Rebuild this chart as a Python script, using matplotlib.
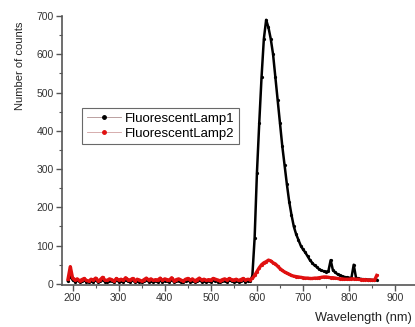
import matplotlib
matplotlib.use("Agg")
import matplotlib.pyplot as plt
from matplotlib.ticker import MultipleLocator

plt.rcParams['font.family'] = ['Liberation Sans', 'DejaVu Sans']

wavelength = list(range(190, 865, 5))

lamp1 = [
    8, 20, 10, 6, 9, 5, 7, 10, 6, 4, 8, 6, 9, 5, 7, 11, 6, 5, 8, 7,
    4, 9, 6, 8, 5, 10, 7, 6, 9, 5, 8, 6, 4, 7, 9, 6, 8, 5, 7, 6,
    9, 5, 8, 7, 6, 10, 5, 7, 8, 6, 4, 7, 9, 6, 8, 5, 7, 9, 6, 8,
    5, 7, 6, 9, 8, 6, 5, 7, 8, 6, 9, 7, 6, 8, 5, 7, 9, 6, 8, 7,
    20, 120, 290, 420, 540, 640, 690, 670, 640, 600, 540, 480, 420, 360, 310, 260,
    215, 180, 150, 130, 115, 100, 90, 82, 72, 62, 55, 48, 44, 38, 35, 33,
    32, 33, 62, 35, 30, 25, 22, 20, 18, 17, 16, 15, 50, 16, 14, 13,
    12, 12, 11, 11, 10, 10, 10,
]

lamp2 = [
    12, 45, 15, 10, 13, 8, 11, 14, 9, 7, 12, 10, 15, 8, 11, 17, 10, 9, 13, 11,
    7, 14, 10, 12, 9, 16, 11, 10, 14, 8, 12, 10, 7, 11, 15, 10, 13, 9, 11, 10,
    15, 9, 13, 11, 10, 16, 8, 11, 13, 10, 7, 12, 14, 10, 13, 8, 11, 15, 10, 12,
    9, 11, 10, 14, 12, 10, 8, 11, 13, 10, 14, 11, 10, 12, 9, 11, 14, 10, 12, 11,
    14, 22, 32, 42, 50, 55, 58, 62, 60, 55, 52, 46, 40, 35, 31, 28,
    25, 22, 20, 19, 18, 17, 16, 15, 15, 14, 14, 15, 15, 16, 17, 18,
    18, 17, 16, 16, 15, 14, 13, 13, 12, 12, 12, 13, 13, 12, 12, 11,
    11, 11, 10, 10, 10, 9, 22,
]

W, H = 415, 327
fig = plt.figure(figsize=(W / 100, H / 100), dpi=100)
ax = fig.add_axes([62 / W, 1 - 285 / H, 1 - 62 / W, (285 - 16) / H])

ax.plot(wavelength, lamp1, color='black', lw=1.8, marker='o', ms=1.3,
        label='FluorescentLamp1')
ax.plot(wavelength, lamp2, color='#e01010', lw=2.4, marker='o', ms=1.3,
        label='FluorescentLamp2')

ax.set_xlim(177, 943)
ax.set_ylim(-3, 700)
ax.xaxis.set_major_locator(MultipleLocator(100))
ax.xaxis.set_minor_locator(MultipleLocator(50))
ax.yaxis.set_major_locator(MultipleLocator(100))
ax.yaxis.set_minor_locator(MultipleLocator(50))
for s in ['top', 'right']:
    ax.spines[s].set_visible(False)
for s in ['left', 'bottom']:
    ax.spines[s].set_color('#555555')
    ax.spines[s].set_linewidth(1.2)
ax.tick_params(which='major', direction='out', length=4, width=1, color='#555555',
               labelsize=7.5, labelcolor='#333333', pad=2)
ax.tick_params(which='minor', direction='out', length=2.5, width=0.8, color='#555555')

fig.text(412 / W, 1 - 318 / H, 'Wavelength (nm)', fontsize=9.2, color='#222222',
         ha='right', va='center')
fig.text(20 / W, 1 - 66 / H, 'Number of counts', fontsize=8, color='#222222',
         rotation=90, ha='center', va='center')

leg = ax.legend(loc='upper left', bbox_to_anchor=((82 - 62) / (W - 62), 1 - (108 - 16) / (285 - 16)),
                fontsize=9.5, frameon=True, fancybox=False, borderpad=0.35,
                handlelength=2.6, handletextpad=0.3, labelspacing=0.2, borderaxespad=0)
leg.get_frame().set_edgecolor('#444444')
leg.get_frame().set_linewidth(0.8)
handle_line_colors = ['#b09090', '#d0a0a0']
handle_marker_colors = ['black', '#e01010']
for h, lc, mc in zip(leg.get_lines(), handle_line_colors, handle_marker_colors):
    h.set_linewidth(0.6)
    h.set_color(lc)
    h.set_markerfacecolor(mc)
    h.set_markeredgecolor(mc)
    h.set_markersize(2.5)

fig.savefig('out.png', dpi=100)
